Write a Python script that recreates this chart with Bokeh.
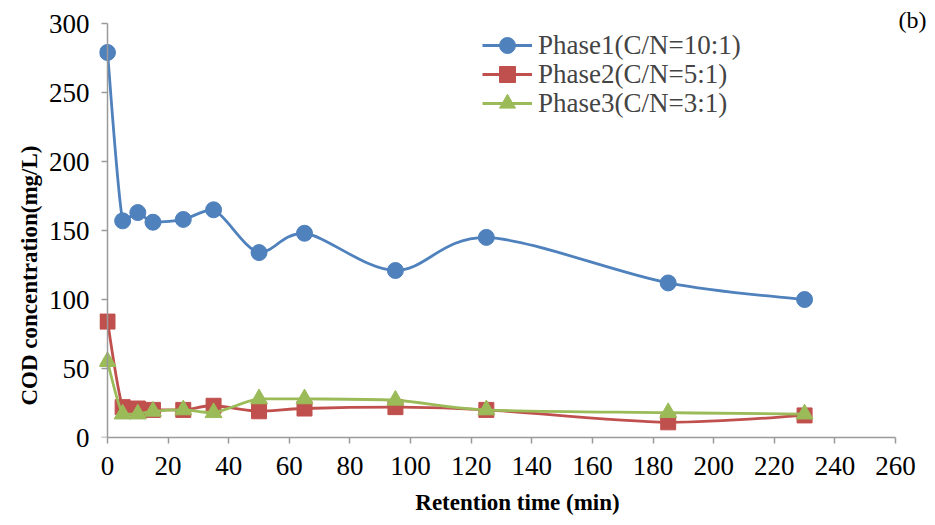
from bokeh.plotting import figure
from bokeh.models import (FixedTicker, Legend, LegendItem, Label, ColumnDataSource, Range1d,
                          LinearAxis)
from bokeh.embed import file_html
from bokeh.resources import INLINE

# ---- data ----
time = [0, 5, 10, 15, 25, 35, 50, 65, 95, 125, 185, 230]
phase1 = [279, 157, 163, 156, 158, 165, 134, 148, 121, 145, 112, 100]
phase2 = [84, 22, 21, 20, 20, 23, 19, 21, 22, 20, 11, 16]
phase3 = [55, 17, 17, 19, 20, 18, 28, 28, 27, 20, 18, 17]
labels = ["Phase1(C/N=10:1)", "Phase2(C/N=5:1)", "Phase3(C/N=3:1)"]
x_ticks = [0, 20, 40, 60, 80, 100, 120, 140, 160, 180, 200, 220, 240, 260]
y_ticks = [0, 50, 100, 150, 200, 250, 300]

colors = ["#4F81BD", "#C0504D", "#9BBB59"]
markers = ["circle", "square", "triangle"]
msizes = [16, 15, 17]
FONT = "Liberation Serif"

# pixel layout of the plot area (frame extends past the axes so markers at x=0 are not clipped)
FRAME_LEFT = 99
X0_PX, X260_PX = 107, 895
Y0_PX, Y300_PX = 437, 23
kx = (X260_PX - X0_PX) / 260.0
ky = (Y0_PX - Y300_PX) / 300.0
x_start = -(X0_PX - FRAME_LEFT) / kx
x_end = 260 + (935 - X260_PX) / kx
y_end = 300 + Y300_PX / ky


def smooth(xs, ys):
    """Bezier segments (Catmull-Rom style smoothed line, no overshoot inside a segment)."""
    n = len(xs)
    d = dict(x0=[], y0=[], x1=[], y1=[], cx0=[], cy0=[], cx1=[], cy1=[])
    for i in range(n - 1):
        a = i - 1 if i > 0 else i
        b = i + 2 if i + 2 < n else i + 1
        lo, hi = min(ys[i], ys[i + 1]), max(ys[i], ys[i + 1])
        d["x0"].append(xs[i]); d["y0"].append(ys[i])
        d["x1"].append(xs[i + 1]); d["y1"].append(ys[i + 1])
        d["cx0"].append(xs[i] + (xs[i + 1] - xs[a]) / 6.0)
        d["cy0"].append(min(hi, max(lo, ys[i] + (ys[i + 1] - ys[a]) / 6.0)))
        d["cx1"].append(xs[i + 1] - (xs[b] - xs[i]) / 6.0)
        d["cy1"].append(min(hi, max(lo, ys[i + 1] - (ys[b] - ys[i]) / 6.0)))
    return d


p = figure(width=935, height=525, output_backend="svg", toolbar_location=None,
           x_range=Range1d(x_start, x_end), y_range=Range1d(0, y_end),
           min_border_left=FRAME_LEFT, min_border_right=0, min_border_top=0,
           min_border_bottom=525 - Y0_PX,
           title="COD concentration(mg/L)", title_location="left")
p.outline_line_color = None
p.xgrid.grid_line_color = None
p.ygrid.grid_line_color = None
p.background_fill_color = "white"

p.title.align = "left"
p.title.offset = 32
p.title.standoff = 8
p.title.text_font = FONT
p.title.text_font_style = "bold"
p.title.text_font_size = "23px"
p.title.text_color = "black"

for i, (ys, lab, c, m, s) in enumerate(zip([phase1, phase2, phase3], labels, colors, markers, msizes)):
    bz = p.bezier(source=ColumnDataSource(smooth(time, ys)), x0="x0", y0="y0", x1="x1", y1="y1",
                  cx0="cx0", cy0="cy0", cx1="cx1", cy1="cy1", line_color=c, line_width=2.8)
    sc = p.scatter(time, ys, marker=m, size=s, fill_color=c, line_color=c)
    row_center = 45 + 29 * i
    leg = Legend(items=[LegendItem(label=lab, renderers=[bz, sc])],
                 location=(482 - FRAME_LEFT - 4, Y0_PX - row_center - 24),
                 border_line_alpha=0, background_fill_alpha=0, label_text_font=FONT,
                 label_text_font_size="27px", glyph_width=50, glyph_height=40,
                 label_height=28, spacing=0, padding=4, margin=0, label_standoff=6)
    p.add_layout(leg)

AXIS_GREY = "#9a9a9a"

# x axis
xa = p.xaxis[0]
xa.ticker = FixedTicker(ticks=x_ticks)
xa.bounds = (0, 260)
xa.axis_line_color = AXIS_GREY
xa.axis_line_width = 1.5
xa.major_tick_line_color = AXIS_GREY
xa.major_tick_line_width = 1.5
xa.major_tick_out = 6
xa.major_tick_in = 0
xa.minor_tick_line_color = None
xa.major_label_text_font = FONT
xa.major_label_text_font_size = "27px"
xa.major_label_text_color = "black"
xa.major_label_standoff = 13
xa.axis_label = "Retention time (min)"
xa.axis_label_text_font = FONT
xa.axis_label_text_font_style = "bold"
xa.axis_label_text_font_size = "23px"
xa.axis_label_text_color = "black"
xa.axis_label_standoff = 12

# y axis line + ticks, drawn at x = 0
ya = p.yaxis[0]
ya.ticker = FixedTicker(ticks=y_ticks)
ya.bounds = (0, 300)
ya.fixed_location = 0
ya.axis_line_color = AXIS_GREY
ya.axis_line_width = 1.5
ya.major_tick_line_color = AXIS_GREY
ya.major_tick_line_width = 1.5
ya.major_tick_out = 6
ya.major_tick_in = 0
ya.minor_tick_line_color = None
ya.major_label_overrides = {t: "" for t in y_ticks}
ya.major_label_standoff = 0

# y tick labels
yl = LinearAxis(ticker=FixedTicker(ticks=y_ticks), axis_line_color=None,
                major_tick_line_color=None, minor_tick_line_color=None,
                major_tick_out=0, major_tick_in=0, major_label_standoff=10,
                major_label_text_font=FONT, major_label_text_font_size="27px",
                major_label_text_color="black")
p.add_layout(yl, "left")

p.add_layout(Label(x=(912 - X0_PX) / kx, y=(Y0_PX - 19) / ky, text="(b)", text_align="center",
                   text_baseline="middle", text_font=FONT, text_font_size="24px",
                   text_color="black"))

open("out.html", "w").write(file_html(p, INLINE))
